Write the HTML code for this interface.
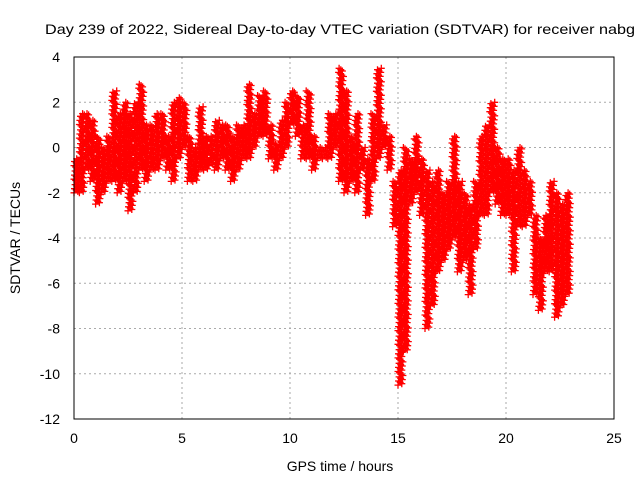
<!DOCTYPE html>
<html><head><meta charset="utf-8"><style>
body{margin:0;background:#fff;width:640px;height:480px;overflow:hidden}
svg text{font-family:"Liberation Sans",sans-serif;font-size:14px;fill:#000}
</style></head><body>
<svg id="chart" width="640" height="480" xmlns="http://www.w3.org/2000/svg">
<text x="45" y="34" textLength="590" lengthAdjust="spacingAndGlyphs">Day 239 of 2022, Sidereal Day-to-day VTEC variation (SDTVAR) for receiver nabg</text>
<text transform="translate(20,238) rotate(-90)" text-anchor="middle">SDTVAR / TECUs</text>
<text x="340" y="471" text-anchor="middle">GPS time / hours</text>
<g id="grid"></g>
<g id="ticks"></g>
<path id="marks" fill="none" stroke="#f00" stroke-width="1.3"/>
<rect x="74" y="57" width="540" height="362" fill="none" stroke="#000" stroke-width="1"/>
</svg>
<script>
const xTicks=[0,5,10,15,20,25];
const yTicks=[4,2,0,-2,-4,-6,-8,-10,-12];
const binStart=[0,0.25,0.5,0.75,1,1.25,1.5,1.75,2,2.25,2.5,2.75,3,3.25,3.5,3.75,4,4.25,4.5,4.75,5,5.25,5.5,5.75,6,6.25,6.5,6.75,7,7.25,7.5,7.75,8,8.25,8.5,8.75,9,9.25,9.5,9.75,10,10.25,10.5,10.75,11,11.25,11.5,11.75,12,12.25,12.5,12.75,13,13.25,13.5,13.75,14,14.25,14.5,14.75,15,15.25,15.5,15.75,16,16.25,16.5,16.75,17,17.25,17.5,17.75,18,18.25,18.5,18.75,19,19.25,19.5,19.75,20,20.25,20.5,20.75,21,21.25,21.5,21.75,22,22.25,22.5,22.75];
const lowVals=[-2,-2,-1,-1.5,-2.5,-2,-1.5,-1.5,-2,-1.5,-2.8,-2,-1,-1.5,-1,-1,-0.5,-1,-1.5,-0.5,0,-1.5,-1.5,-1,-1,-0.8,-1,-0.5,-1,-1.5,-1,-0.5,-0.5,0,0.5,0.5,-0.5,-1,-0.5,0,1,0.5,-0.5,-0.5,-1,-0.5,-0.5,-0.5,0,-1.5,-2,-1.5,-2,-1,-3,-1.5,-0.5,0,-1,-3.5,-10.5,-9,-2.5,-2,-3,-8,-7,-5.5,-5,-4.5,-4,-5.5,-5,-6.5,-4.5,-3,-3,-2,-2.5,-3,-3,-5.5,-3.5,-3.5,-3,-6.5,-7.2,-5.5,-5.5,-7.5,-7,-6.5];
const highVals=[-0.5,1.5,1.5,1.2,0.5,0,0.5,2.5,1.5,2,1.5,2,2.8,1,1,1.5,1.5,0.5,2,2.2,2,0.5,0,1.8,0.5,0.5,1.2,1,1,0.5,1,1,2.8,1.5,2.3,2.5,1,0.2,1.2,2,2.5,2.3,1,2.5,0.5,0,0,1.5,1.5,3.5,2.5,0.5,1.5,0,-0.5,1.5,3.5,1,0.5,-1.5,-1,0,-0.5,0.5,-0.5,-1,-1.5,-1,-2,-1.5,0.5,-1.5,-2,-2.5,-1.5,0.5,1,2,0,-0.5,-0.5,-1,0,-1,-1.5,-3,-4,-3,-1.5,-2,-2.5,-2];
const X=t=>74+t*540/25, Y=v=>57+(4-v)*362/16;
const ns='http://www.w3.org/2000/svg';
const grid=document.getElementById('grid'),ticks=document.getElementById('ticks');
xTicks.forEach(t=>{
 if(t>0&&t<25){const l=document.createElementNS(ns,'line');
 
 
 l.setAttribute('x1',X(t));l.setAttribute('x2',X(t));l.setAttribute('y1',57);l.setAttribute('y2',419);
 l.setAttribute('stroke','#aaa');l.setAttribute('stroke-dasharray','2,3');grid.appendChild(l);}
 const tx=document.createElementNS(ns,'text');
 
 
 tx.setAttribute('x',X(t));tx.setAttribute('y',443);tx.setAttribute('text-anchor','middle');tx.textContent=t;ticks.appendChild(tx);
});
yTicks.forEach(v=>{
 if(v<4&&v>-12){const l=document.createElementNS(ns,'line');
 
 
 l.setAttribute('x1',74);l.setAttribute('x2',614);l.setAttribute('y1',Y(v));l.setAttribute('y2',Y(v));
 l.setAttribute('stroke','#aaa');l.setAttribute('stroke-dasharray','2,3');grid.appendChild(l);}
 const tx=document.createElementNS(ns,'text');
 
 
 tx.setAttribute('x',60);tx.setAttribute('y',Y(v)+5);tx.setAttribute('text-anchor','end');tx.textContent=v;ticks.appendChild(tx);
});
let d='';
binStart.forEach((t,i)=>{
 const lo=lowVals[i],hi=highVals[i];
 const n=Math.max(3,Math.round((hi-lo)/0.06));
 for(let k=0;k<=n;k++){
  const v=lo+(hi-lo)*k/n;
  const frac=((k*7)%10)/10;
  const x=X(t+0.25*frac),y=Y(v);
  d+=`M${(x-3.5).toFixed(1)} ${y.toFixed(1)}h7M${x.toFixed(1)} ${(y-3.5).toFixed(1)}v7`;
 }
});
document.getElementById('marks').setAttribute('d',d);
</script>
</body></html>
